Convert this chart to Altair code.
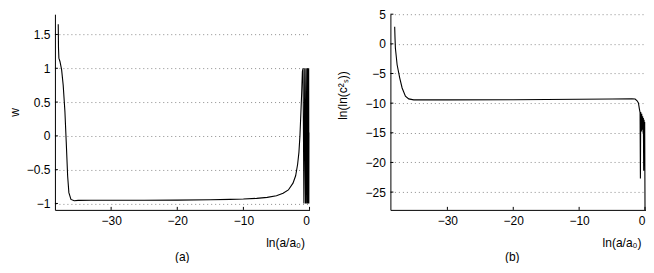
import altair as alt
import pandas as pd

# ---- panel (a): w versus ln(a/a0)
x_w = [-38.0, -37.96, -37.9, -37.74, -37.49, -37.25, -36.99, -36.79, -36.58, -36.39,
       -36.08, -35.58, -35.0, -33.0, -30.0, -25.0, -20.0, -15.0, -12.0, -10.0, -8.0,
       -6.4, -5.0, -4.0, -3.2, -2.5, -2.1, -1.8, -1.6, -1.45, -1.34, -1.2, -1.08, -0.98,
       -0.85, -0.72, -0.6, -0.5, -0.42, -0.35, -0.3, -0.28, -0.22, -0.16, -0.1, -0.05, -0.02]
w_vals = [1.65, 1.3, 1.15, 1.1, 0.98, 0.75, 0.36, -0.09, -0.59, -0.84,
          -0.94, -0.96, -0.955, -0.953, -0.952, -0.952, -0.95, -0.945, -0.94, -0.935, -0.925,
          -0.91, -0.885, -0.85, -0.8, -0.7, -0.59, -0.42, -0.24, 0.0, 0.26, 0.6, 0.95, 1.0,
          -1.0, 1.0, -1.0, 1.0, -1.0, 0.02, 1.0, -1.0, 1.0, -1.0, 1.0, -1.0, 0.05]

# ---- panel (b): ln(ln(c_s^2)) versus ln(a/a0)
x_c = [-38.0, -37.95, -37.89, -37.63, -37.23, -36.87, -36.37, -35.87, -35.11, -30.0,
       -20.0, -10.0, -5.0, -2.0, -1.5, -1.2, -1.0, -0.85, -0.75, -0.7, -0.65, -0.55,
       -0.5, -0.42, -0.36, -0.3, -0.25, -0.2, -0.15, -0.1, -0.05, 0.0]
c_vals = [2.88, 1.0, -0.75, -3.53, -5.77, -7.44, -8.83, -9.28, -9.45, -9.45,
          -9.42, -9.35, -9.3, -9.25, -9.3, -9.6, -9.95, -11.0, -11.6, -22.7, -11.5, -14.8,
          -11.8, -14.5, -12.2, -15.0, -12.5, -21.4, -12.8, -14.0, -13.2, -28.0]

x_ticks = [-30, -20, -10, 0]
w_ticks = [-1, -0.5, 0, 0.5, 1, 1.5]
c_ticks = [-25, -20, -15, -10, -5, 0, 5]

FONT = "Liberation Sans"
W1, W2, H = 255, 256, 196


def panel(xs, ys, ydomain, yticks, xdomain, ytitle, caption, width, ytitle_x, ytitle_y, cap_dx):
    df = pd.DataFrame({"x": xs, "y": ys, "i": list(range(len(xs)))})
    xsc = alt.Scale(domain=xdomain, nice=False, zero=False)
    ysc = alt.Scale(domain=ydomain, nice=False, zero=False)
    yaxis_kw = dict(values=yticks, title=ytitle, format="~f", grid=True, gridDash=[1, 3],
                    gridColor="#8c8c8c", gridWidth=1, ticks=False, tickSize=0,
                    labelPadding=5, titleX=ytitle_x, titleBaseline="alphabetic")
    if ytitle_y is not None:
        yaxis_kw["titleY"] = ytitle_y
    xaxis = alt.Axis(values=x_ticks, title="ln(a/a₀)", format="~f", grid=False, ticks=False,
                     tickSize=0, labelPadding=6, titleAnchor="end",
                     titleAlign="right", titleX=width - 5, titleY=37,
                     titleBaseline="alphabetic")
    yaxis = alt.Axis(**yaxis_kw)
    line = alt.Chart(df).mark_line(color="black", strokeWidth=1.1, clip=True).encode(
        x=alt.X("x:Q", scale=xsc, axis=xaxis),
        y=alt.Y("y:Q", scale=ysc, axis=yaxis),
        order="i:Q",
    )
    xt = alt.Chart(pd.DataFrame({"x": x_ticks})).mark_rule(color="black", strokeWidth=1).encode(
        x=alt.X("x:Q", scale=xsc, axis=xaxis),
        y=alt.value(H), y2=alt.value(H - 3),
    )
    yt = alt.Chart(pd.DataFrame({"y": yticks})).mark_rule(color="black", strokeWidth=1).encode(
        y=alt.Y("y:Q", scale=ysc, axis=yaxis),
        x=alt.value(0), x2=alt.value(3),
    )
    return alt.layer(line, xt, yt).properties(
        width=width, height=H,
        title=alt.TitleParams(caption, orient="bottom", anchor="middle", fontSize=12,
                              font=FONT, fontWeight="normal", color="black", offset=3,
                              dx=cap_dx),
    )


left = panel(x_w, w_vals, [-1.095, 1.8], w_ticks, [-38.5, 0], "w", "(a)", W1, -36.5, None, 0)
right = panel(x_c, c_vals, [-28, 5], c_ticks, [-38.65, 0.15], "ln(ln(c²ₛ))", "(b)", W2, -44, 81, -6)

chart = alt.hconcat(left, right, spacing=81, bounds="flush").properties(
    padding={"left": 0, "top": 0, "right": 0, "bottom": 0}
).configure_view(stroke=None).configure_axis(
    domainColor="black", domainWidth=1,
    labelFont=FONT, labelFontSize=12, labelColor="black",
    titleFont=FONT, titleFontSize=12, titleFontWeight="normal", titleColor="black",
)

chart.save("out.html", embed_options={"renderer": "svg", "actions": False})
